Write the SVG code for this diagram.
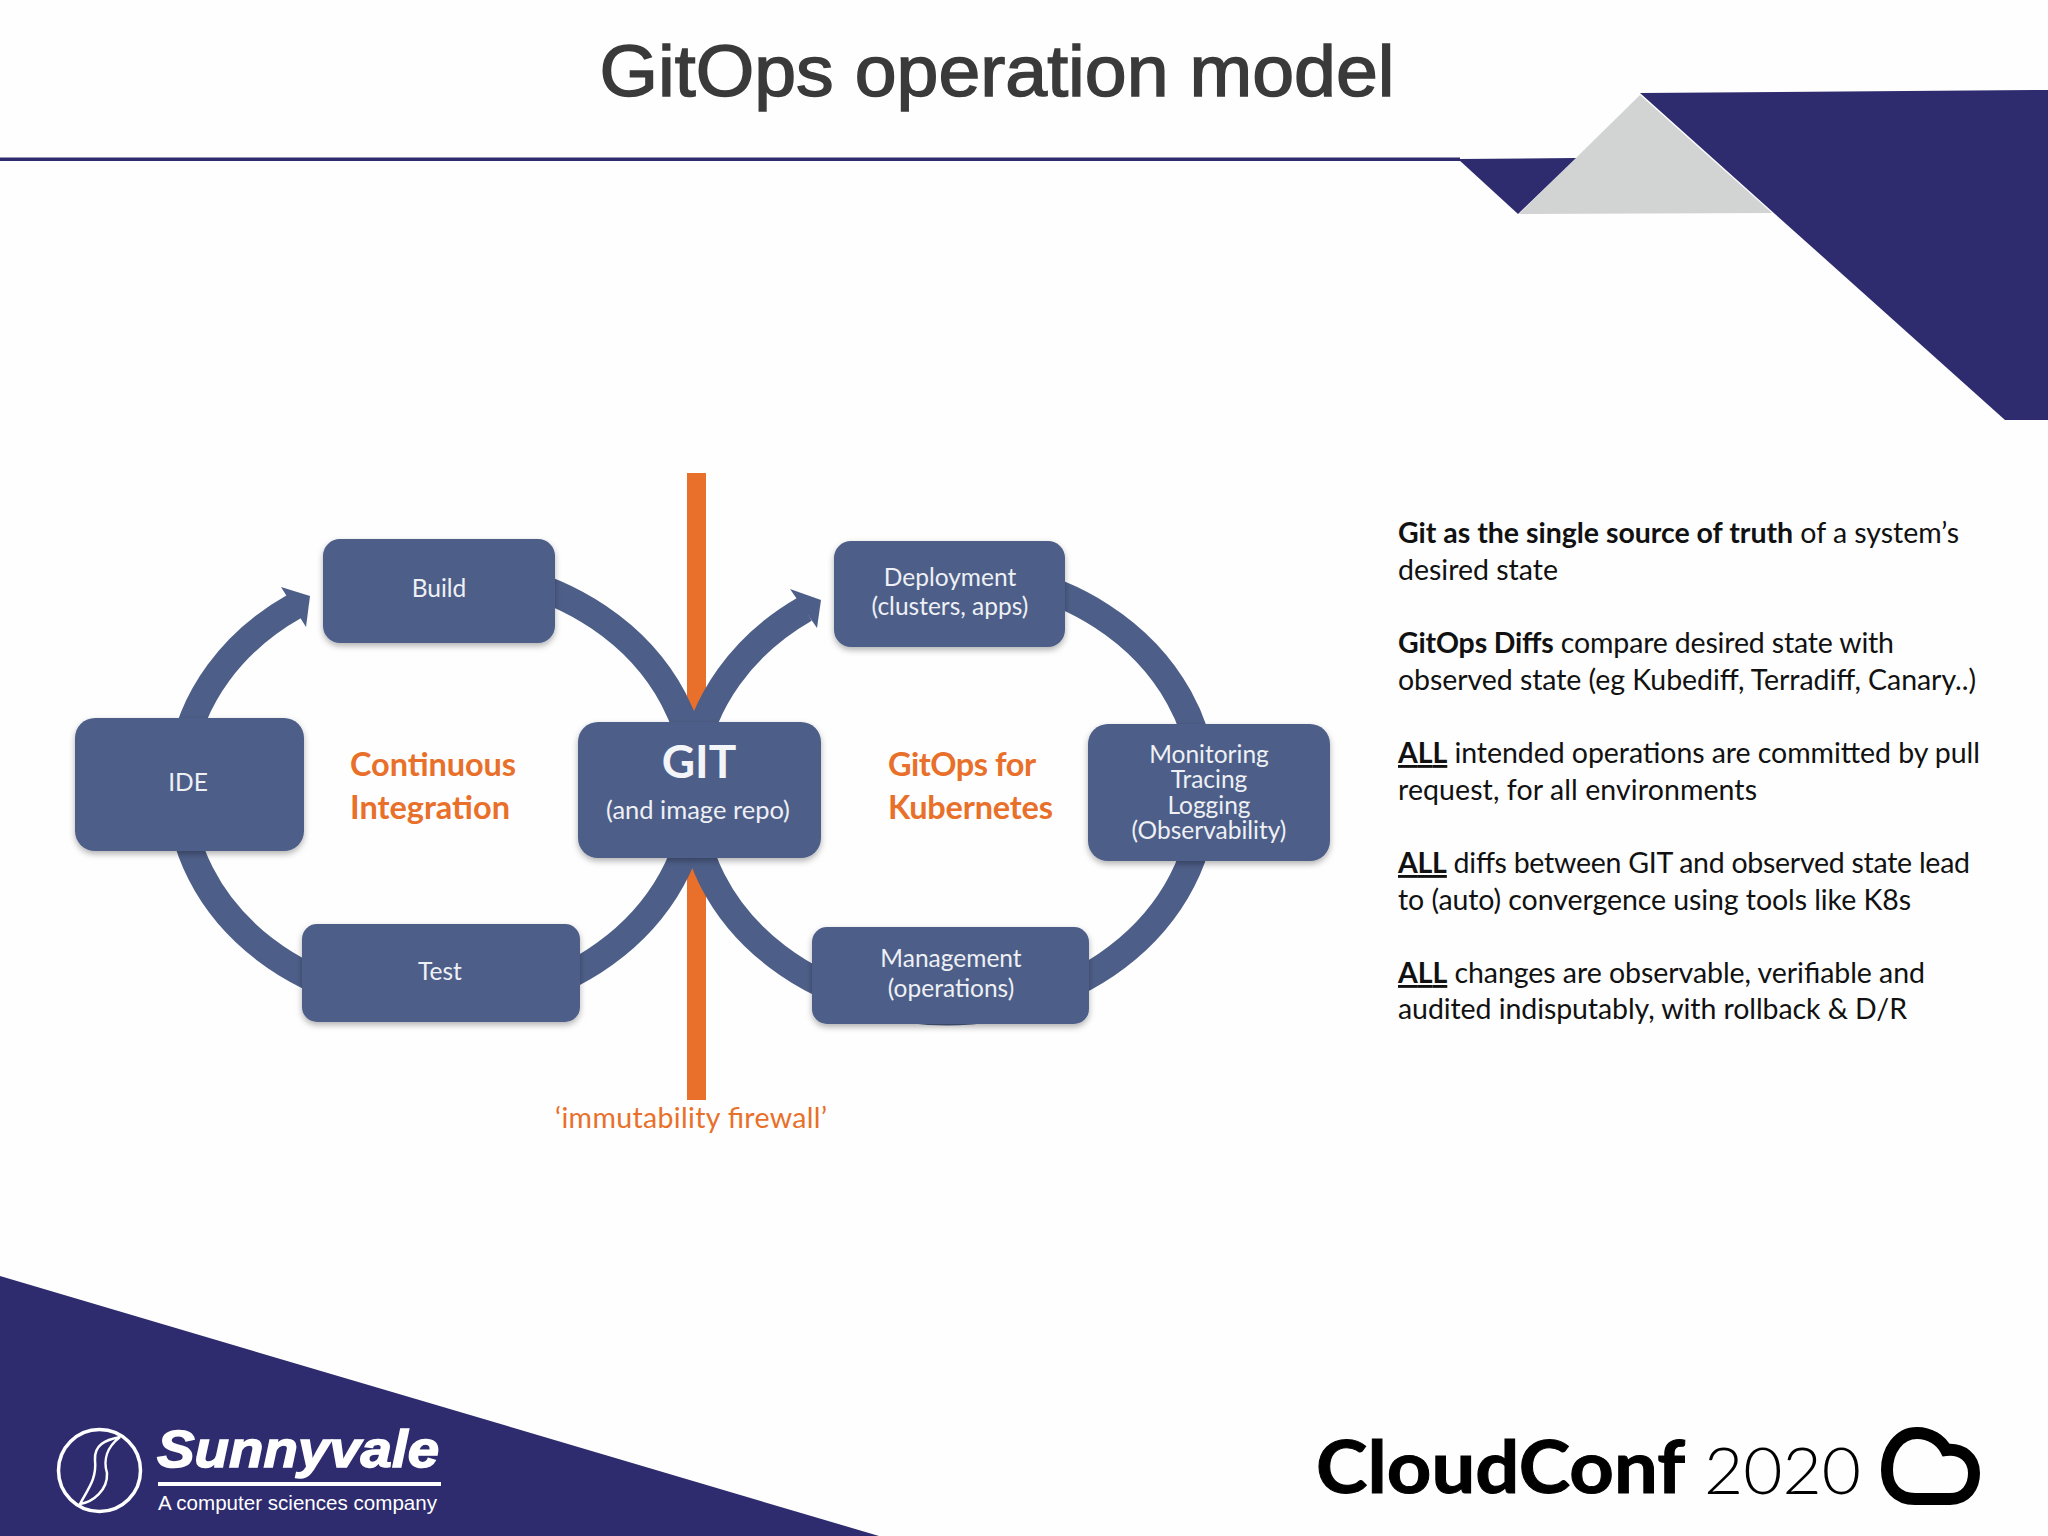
<svg xmlns="http://www.w3.org/2000/svg" width="2048" height="1536" viewBox="0 0 2048 1536">
<style>
.navy{fill:#2e2c6e}
.box{fill:#4d5e88;filter:url(#sh)}
.ring{fill:none;stroke:#4d5e88;stroke-width:27}
.head{fill:#4d5e88}
text{font-family:Lato,"Liberation Sans",sans-serif}
.nl{fill:#eef0f5;font-size:24.5px;text-anchor:middle}
.or{fill:#e8702a;font-size:32.5px;font-weight:700}
.body{fill:#111;font-size:28.5px}
.body .b{font-weight:700}
.body .u{font-weight:700;text-decoration:underline}
</style>
<defs>
<filter id="sh" x="-10%" y="-10%" width="120%" height="125%"><feDropShadow dx="0" dy="3" stdDeviation="3" flood-color="#000" flood-opacity="0.3"/></filter>
</defs>
<rect width="2048" height="1536" fill="#fefefe"/>
<g id="decor">
<rect class="navy" x="0" y="157.500" width="1460" height="3.500"/>
<polygon points="1640,95 1519,214 1772,213" fill="#d2d3d3"/>
<polygon class="navy" points="1458,159 1576,158 1518,214"/>
<polygon class="navy" points="1640,93 2048,90 2048,420 2005,420"/>
<polygon class="navy" points="0,1276 879,1536 0,1536"/>
</g>
<text id="title" x="997" y="96" text-anchor="middle" font-size="73" fill="#3a3a3a" stroke="#3a3a3a" stroke-width="1.500" style="font-family:'Liberation Sans',sans-serif" textLength="795" lengthAdjust="spacingAndGlyphs">GitOps operation model</text>
<rect id="firewall" x="687" y="473" width="19" height="627" fill="#e8702a"/>
<g id="connectors">
<path class="ring" d="M295,606 A258 218 0 1 0 500,576"/>
<polygon class="head" points="310,596 281,587 306,627"/>
<path class="ring" d="M1002,577 A256.500 220 0 1 1 805,609"/>
<polygon class="head" points="821,600 790,589 817,628"/>
</g>
<g id="node-build"><rect class="box" x="323" y="539" width="232" height="104" rx="17"/><text class="nl" x="439" y="597">Build</text></g>
<g id="node-ide"><rect class="box" x="75" y="718" width="229" height="133" rx="20"/><text class="nl" x="188" y="791">IDE</text></g>
<g id="node-test"><rect class="box" x="302" y="924" width="278" height="98" rx="15"/><text class="nl" x="440" y="980">Test</text></g>
<g id="node-git"><rect class="box" x="578" y="722" width="243" height="136" rx="20"/>
<text x="699" y="778" text-anchor="middle" font-size="46" font-weight="700" fill="#f4f5f8">GIT</text>
<text x="698" y="819" text-anchor="middle" font-size="25.500" fill="#eef0f5">(and image repo)</text></g>
<g id="node-deployment"><rect class="box" x="834" y="541" width="231" height="106" rx="17"/><text class="nl" x="950" y="586">Deployment</text><text class="nl" x="950" y="615">(clusters, apps)</text></g>
<g id="node-monitoring"><rect class="box" x="1088" y="724" width="242" height="137" rx="20"/><text class="nl" x="1209" y="763">Monitoring</text><text class="nl" x="1209" y="788">Tracing</text><text class="nl" x="1209" y="814">Logging</text><text class="nl" x="1209" y="839">(Observability)</text></g>
<g id="node-management"><rect class="box" x="812" y="927" width="277" height="97" rx="15"/><text class="nl" x="951" y="967">Management</text><text class="nl" x="951" y="997">(operations)</text></g>
<g id="labels">
<text class="or" x="350" y="776" textLength="166">Continuous</text>
<text class="or" x="350" y="819" textLength="160">Integration</text>
<text class="or" x="888" y="776" textLength="148">GitOps for</text>
<text class="or" x="888" y="819" textLength="165">Kubernetes</text>
<text x="555" y="1128" font-size="28.500" fill="#e8702a" textLength="272">‘immutability firewall’</text>
</g>
<g id="notes">
<text class="body" x="1398" y="543" textLength="561"><tspan class="b">Git as the single source of truth</tspan> of a system’s</text>
<text class="body" x="1398" y="580" textLength="160">desired state</text>
<text class="body" x="1398" y="653" textLength="496"><tspan class="b">GitOps Diffs</tspan> compare desired state with</text>
<text class="body" x="1398" y="690" textLength="578">observed state (eg Kubediff, Terradiff, Canary..)</text>
<text class="body" x="1398" y="763" textLength="582"><tspan class="u">ALL</tspan> intended operations are committed by pull</text>
<text class="body" x="1398" y="800" textLength="359">request, for all environments</text>
<text class="body" x="1398" y="873" textLength="572"><tspan class="u">ALL</tspan> diffs between GIT and observed state lead</text>
<text class="body" x="1398" y="910" textLength="513">to (auto) convergence using tools like K8s</text>
<text class="body" x="1398" y="983" textLength="527"><tspan class="u">ALL</tspan> changes are observable, verifiable and</text>
<text class="body" x="1398" y="1019" textLength="509">audited indisputably, with rollback &amp; D/R</text>
</g>
<g id="logo-sunnyvale">
<circle cx="99.500" cy="1470.500" r="41" fill="none" stroke="#fff" stroke-width="3.500"/>
<path d="M80,1504 C87,1490 97,1480 95,1460 C94,1445 105,1440 120,1437 C107,1447 103,1460 107,1473 C108,1490 93,1502 80,1504Z" fill="none" stroke="#fff" stroke-width="2.500"/>
<text x="157" y="1467" font-size="52" font-weight="700" font-style="italic" fill="#fff" stroke="#fff" stroke-width="1.500" style="font-family:'Liberation Sans',sans-serif" textLength="282" lengthAdjust="spacingAndGlyphs">Sunnyvale</text>
<rect x="158" y="1482" width="283" height="4" fill="#fff"/>
<text x="158" y="1510" font-size="21" fill="#fff" style="font-family:'Liberation Sans',sans-serif" textLength="279" lengthAdjust="spacingAndGlyphs">A computer sciences company</text>
</g>
<g id="logo-cloudconf">
<text x="1316" y="1493" font-size="72" font-weight="700" fill="#000" stroke="#000" stroke-width="1" textLength="369" lengthAdjust="spacingAndGlyphs">CloudConf</text>
<text x="1704" y="1494" font-size="66" font-weight="300" fill="#000" textLength="157" lengthAdjust="spacingAndGlyphs">2020</text>
<path d="M1915 1499 H1950 C1966 1499 1974 1487 1974 1473 C1974 1458 1962 1448 1946 1450 C1941 1440 1930 1433 1917 1433 C1899 1433 1887 1450 1887 1470 C1887 1487 1897 1499 1915 1499Z" fill="none" stroke="#000" stroke-width="12"/>
</g>
</svg>
